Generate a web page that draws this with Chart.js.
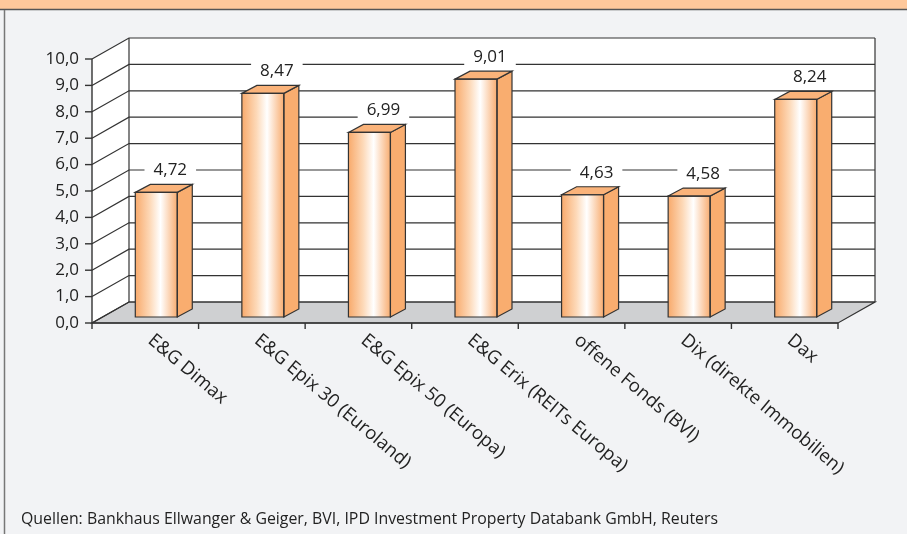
<!DOCTYPE html>
<html>
<head>
<meta charset="utf-8">
<script src="https://cdn.jsdelivr.net/npm/chart.js@4"></script>
<style>
  html, body { margin: 0; padding: 0; background: #f2f3f5; }
  canvas { display: block; }
</style>
</head>
<body>
<canvas id="chart" width="907" height="534"></canvas>
<script>
// data
const categories = ['E&G Dimax', 'E&G Epix 30 (Euroland)', 'E&G Epix 50 (Europa)',
    'E&G Erix (REITs Europa)', 'offene Fonds (BVI)', 'Dix (direkte Immobilien)', 'Dax'];
const returns = [4.72, 8.47, 6.99, 9.01, 4.63, 4.58, 8.24];
const yTicks = [0, 1, 2, 3, 4, 5, 6, 7, 8, 9, 10];
const yTickLabels = ['0,0', '1,0', '2,0', '3,0', '4,0', '5,0', '6,0', '7,0', '8,0', '9,0', '10,0'];
const sourceNote = 'Quellen: Bankhaus Ellwanger & Geiger, BVI, IPD Investment Property Databank GmbH, Reuters';

// 3d offsets relative to the plane the bars are drawn in
const FRONT = { dx: -11, dy: 6 };
const BACK = { dx: 26, dy: -15 };
const DEPTH = { dx: 15, dy: -8 };
const LINE = '#333333';
const FONT = '"Open Sans", sans-serif';

function poly(ctx, pts, fill, stroke) {
    ctx.beginPath();
    ctx.moveTo(pts[0][0], pts[0][1]);
    for (let i = 1; i < pts.length; i++) ctx.lineTo(pts[i][0], pts[i][1]);
    ctx.closePath();
    if (fill) { ctx.fillStyle = fill; ctx.fill(); }
    if (stroke) { ctx.strokeStyle = stroke; ctx.lineWidth = 1.2; ctx.stroke(); }
}

function line(ctx, x1, y1, x2, y2) {
    ctx.beginPath();
    ctx.moveTo(x1, y1);
    ctx.lineTo(x2, y2);
    ctx.stroke();
}

function barGradient(context) {
    const chart = context.chart;
    const xs = chart.scales.x;
    if (!xs || !chart.chartArea) return '#f9b27a';
    const step = (chart.chartArea.right - chart.chartArea.left) / categories.length;
    const cx = xs.getPixelForValue(context.dataIndex);
    const w = step * 0.394;
    const g = chart.ctx.createLinearGradient(cx - w / 2, 0, cx + w / 2, 0);
    g.addColorStop(0, '#f8aa6c');
    g.addColorStop(0.35, '#fdd9b8');
    g.addColorStop(0.6, '#ffffff');
    g.addColorStop(1, '#f8ad71');
    return g;
}

const box3d = {
    id: 'box3d',
    beforeDraw(chart) {
        const ctx = chart.ctx;
        ctx.save();
        ctx.fillStyle = '#f2f3f5';
        ctx.fillRect(0, 0, chart.width, chart.height);
        ctx.fillStyle = '#fec89b';
        ctx.fillRect(0, 0, chart.width, 9);
        ctx.strokeStyle = '#555555';
        ctx.lineWidth = 1.5;
        line(ctx, 0, 9.5, chart.width, 9.5);
        ctx.strokeStyle = '#777777';
        line(ctx, 4.5, 10, 4.5, chart.height);
        ctx.fillStyle = '#222222';
        ctx.font = '16px ' + FONT;
        ctx.textAlign = 'left';
        ctx.textBaseline = 'middle';
        ctx.fillText(sourceNote, 21, 519, 697);
        ctx.restore();
    },
    beforeDatasetsDraw(chart) {
        const ctx = chart.ctx;
        const { left, right, top, bottom } = chart.chartArea;
        const ys = chart.scales.y;
        ctx.save();
        // back wall
        poly(ctx, [[left + BACK.dx, top + BACK.dy], [right + BACK.dx, top + BACK.dy],
            [right + BACK.dx, bottom + BACK.dy], [left + BACK.dx, bottom + BACK.dy]], '#ffffff');
        // side wall
        poly(ctx, [[left + FRONT.dx, bottom + FRONT.dy], [left + BACK.dx, bottom + BACK.dy],
            [left + BACK.dx, top + BACK.dy], [left + FRONT.dx, top + FRONT.dy]], '#ffffff');
        // floor
        poly(ctx, [[left + FRONT.dx, bottom + FRONT.dy], [right + FRONT.dx, bottom + FRONT.dy],
            [right + BACK.dx, bottom + BACK.dy], [left + BACK.dx, bottom + BACK.dy]], '#cfd0d2', LINE);
        ctx.strokeStyle = LINE;
        ctx.lineWidth = 1.2;
        yTicks.forEach(v => {
            const py = ys.getPixelForValue(v);
            ctx.beginPath();
            ctx.moveTo(left + FRONT.dx, py + FRONT.dy);
            ctx.lineTo(left + BACK.dx, py + BACK.dy);
            ctx.lineTo(right + BACK.dx, py + BACK.dy);
            ctx.stroke();
        });
        line(ctx, left + BACK.dx, top + BACK.dy, left + BACK.dx, bottom + BACK.dy);
        line(ctx, right + BACK.dx, top + BACK.dy, right + BACK.dx, bottom + BACK.dy);
        ctx.restore();
    },
    afterDatasetsDraw(chart) {
        const ctx = chart.ctx;
        const { left, right, top, bottom } = chart.chartArea;
        const xs = chart.scales.x;
        const ys = chart.scales.y;
        const meta = chart.getDatasetMeta(0);
        ctx.save();
        meta.data.forEach((el, i) => {
            const l = el.x - el.width / 2, r = el.x + el.width / 2;
            const t = el.y, b = el.base;
            poly(ctx, [[r, b], [r + DEPTH.dx, b + DEPTH.dy], [r + DEPTH.dx, t + DEPTH.dy], [r, t]], '#f9ad6f', LINE);
            poly(ctx, [[l, t], [l + DEPTH.dx, t + DEPTH.dy], [r + DEPTH.dx, t + DEPTH.dy], [r, t]], '#fab37a', LINE);
            poly(ctx, [[l, t], [r, t], [r, b], [l, b]], null, LINE);
            // value label with white box over the grid line
            const txt = returns[i].toFixed(2).replace('.', ',');
            ctx.font = '17px ' + FONT;
            const tw = ctx.measureText(txt).width;
            const lx = el.x + 14, ly = t - 22;
            ctx.fillStyle = '#ffffff';
            ctx.fillRect(lx - tw / 2 - 9, ly - 9, tw + 18, 18);
            ctx.fillStyle = '#222222';
            ctx.textAlign = 'center';
            ctx.textBaseline = 'middle';
            ctx.fillText(txt, lx, ly);
        });
        // front axes
        ctx.strokeStyle = LINE;
        ctx.lineWidth = 1.4;
        const fx = left + FRONT.dx, fb = bottom + FRONT.dy;
        line(ctx, fx, fb, fx, top + FRONT.dy);
        line(ctx, fx, fb, right + FRONT.dx, fb);
        ctx.fillStyle = '#222222';
        ctx.font = '17px ' + FONT;
        ctx.textAlign = 'right';
        ctx.textBaseline = 'middle';
        yTicks.forEach((v, i) => {
            const py = ys.getPixelForValue(v) + FRONT.dy;
            line(ctx, fx - 7, py, fx, py);
            ctx.fillText(yTickLabels[i], fx - 13, py);
        });
        const step = (right - left) / categories.length;
        for (let k = 0; k <= categories.length; k++) {
            const tx = left + FRONT.dx + k * step;
            line(ctx, tx, fb, tx, fb + 6);
        }
        ctx.font = '18.5px ' + FONT;
        ctx.textAlign = 'left';
        categories.forEach((c, i) => {
            const cx = xs.getPixelForValue(i) + FRONT.dx + 5;
            ctx.save();
            ctx.translate(cx, fb + 15);
            ctx.rotate(40 * Math.PI / 180);
            ctx.fillText(c, 0, 0);
            ctx.restore();
        });
        ctx.restore();
    }
};

new Chart(document.getElementById('chart'), {
    type: 'bar',
    data: {
        labels: categories,
        datasets: [{
            data: returns,
            backgroundColor: barGradient,
            borderWidth: 0,
            categoryPercentage: 1,
            barPercentage: 0.394
        }]
    },
    options: {
        responsive: false,
        animation: false,
        layout: { padding: { left: 103, right: 58, top: 53, bottom: 217 } },
        plugins: { legend: { display: false }, tooltip: { enabled: false } },
        scales: {
            x: { display: false },
            y: { display: false, min: 0, max: 10 }
        }
    },
    plugins: [box3d]
});
</script>
</body>
</html>
